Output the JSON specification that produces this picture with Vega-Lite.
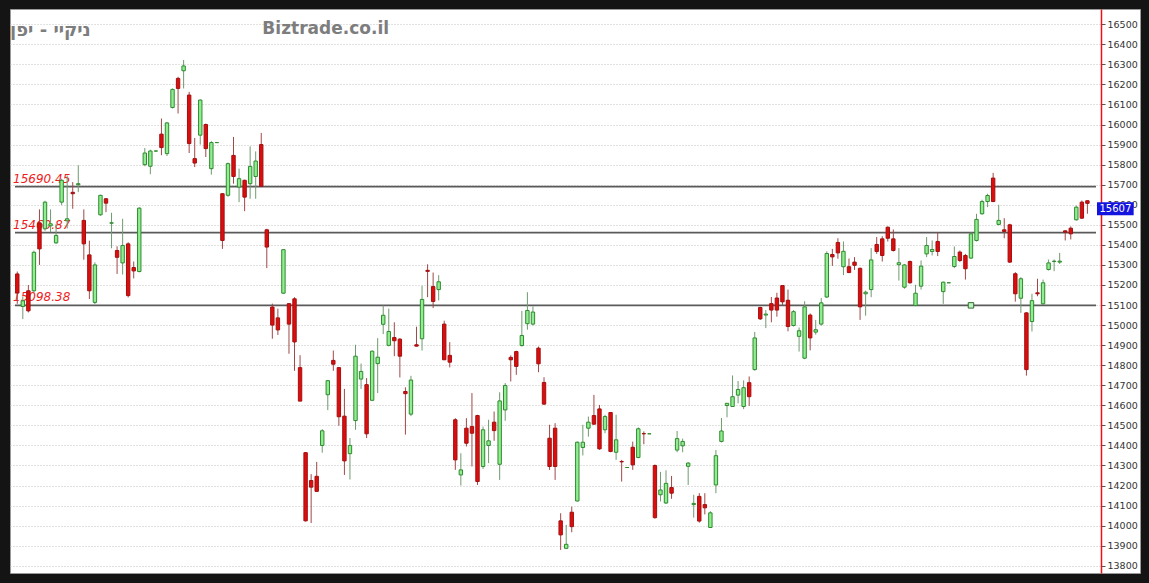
{
  "$schema": "https://vega.github.io/schema/vega-lite/v6.json",
  "width": 1130,
  "height": 564,
  "autosize": {"type": "none"},
  "padding": {"left": 10, "top": 9, "right": 9, "bottom": 10},
  "background": "#141414",
  "config": {"view": {"fill": "#ffffff", "stroke": "#9a9a9a", "strokeWidth": 1}},
  "datasets": {
    "candles": [
      {"i":0,"o":15255,"h":15267,"l":15106,"c":15160},{"i":1,"o":15093,"h":15140,"l":15030,"c":15121},{"i":2,"o":15171,"h":15200,"l":15063,"c":15071},{"i":3,"o":15171,"h":15371,"l":15163,"c":15363},{"i":4,"o":15510,"h":15577,"l":15300,"c":15380},{"i":5,"o":15480,"h":15620,"l":15470,"c":15613},{"i":6,"o":15495,"h":15577,"l":15463,"c":15505},{"i":7,"o":15410,"h":15505,"l":15405,"c":15447},{"i":8,"o":15613,"h":15730,"l":15598,"c":15722},{"i":9,"o":15520,"h":15746,"l":15482,"c":15530},
      {"i":10,"o":15662,"h":15713,"l":15580,"c":15655},{"i":11,"o":15700,"h":15797,"l":15663,"c":15705},{"i":12,"o":15522,"h":15577,"l":15326,"c":15405},{"i":13,"o":15350,"h":15421,"l":15130,"c":15171},{"i":14,"o":15113,"h":15313,"l":15105,"c":15300},{"i":15,"o":15550,"h":15650,"l":15545,"c":15647},{"i":16,"o":15630,"h":15633,"l":15563,"c":15608},{"i":17,"o":15508,"h":15560,"l":15383,"c":15510},{"i":18,"o":15372,"h":15393,"l":15255,"c":15338},{"i":19,"o":15310,"h":15530,"l":15252,"c":15397},
      {"i":20,"o":15405,"h":15413,"l":15138,"c":15147},{"i":21,"o":15287,"h":15317,"l":15233,"c":15270},{"i":22,"o":15267,"h":15588,"l":15263,"c":15583},{"i":23,"o":15800,"h":15883,"l":15792,"c":15858},{"i":24,"o":15792,"h":15875,"l":15752,"c":15868},{"i":25,"o":15868,"h":15870,"l":15864,"c":15868},{"i":26,"o":15952,"h":16030,"l":15847,"c":15885},{"i":27,"o":15855,"h":16013,"l":15843,"c":16008},{"i":28,"o":16085,"h":16180,"l":16080,"c":16175},{"i":29,"o":16230,"h":16238,"l":16055,"c":16180},
      {"i":30,"o":16268,"h":16322,"l":16180,"c":16292},{"i":31,"o":16147,"h":16163,"l":15858,"c":15905},{"i":32,"o":15830,"h":15933,"l":15788,"c":15808},{"i":33,"o":15947,"h":16125,"l":15900,"c":16122},{"i":34,"o":16000,"h":16005,"l":15838,"c":15880},{"i":35,"o":15780,"h":15917,"l":15750,"c":15910},{"i":36,"o":15910,"h":15910,"l":15910,"c":15910},{"i":37,"o":15655,"h":15658,"l":15380,"c":15422},{"i":38,"o":15647,"h":15810,"l":15640,"c":15805},{"i":39,"o":15846,"h":15938,"l":15705,"c":15741},
      {"i":40,"o":15688,"h":15780,"l":15613,"c":15730},{"i":41,"o":15722,"h":15725,"l":15568,"c":15638},{"i":42,"o":15705,"h":15891,"l":15630,"c":15791},{"i":43,"o":15741,"h":15866,"l":15630,"c":15818},{"i":44,"o":15900,"h":15958,"l":15688,"c":15692},{"i":45,"o":15475,"h":15480,"l":15284,"c":15389},{"i":46,"o":15090,"h":15107,"l":14932,"c":15000},{"i":47,"o":15036,"h":15082,"l":14951,"c":14976},{"i":48,"o":15159,"h":15379,"l":15156,"c":15376},{"i":49,"o":15107,"h":15107,"l":14857,"c":15005},
      {"i":50,"o":15131,"h":15139,"l":14772,"c":14916},{"i":51,"o":14788,"h":14850,"l":14621,"c":14621},{"i":52,"o":14364,"h":14367,"l":14021,"c":14024},{"i":53,"o":14225,"h":14257,"l":14013,"c":14192},{"i":54,"o":14246,"h":14318,"l":14168,"c":14171},{"i":55,"o":14400,"h":14481,"l":14364,"c":14473},{"i":56,"o":14653,"h":14726,"l":14576,"c":14723},{"i":57,"o":14824,"h":14873,"l":14772,"c":14805},{"i":58,"o":14788,"h":14791,"l":14498,"c":14543},{"i":59,"o":14546,"h":14682,"l":14253,"c":14323},
      {"i":60,"o":14359,"h":14437,"l":14230,"c":14400},{"i":61,"o":14524,"h":14902,"l":14478,"c":14845},{"i":62,"o":14731,"h":14808,"l":14682,"c":14769},{"i":63,"o":14703,"h":14736,"l":14437,"c":14458},{"i":64,"o":14625,"h":14873,"l":14622,"c":14870},{"i":65,"o":14808,"h":14935,"l":14661,"c":14840},{"i":66,"o":15004,"h":15098,"l":14955,"c":15049},{"i":67,"o":14899,"h":15082,"l":14894,"c":14968},{"i":68,"o":14938,"h":15014,"l":14845,"c":14922},{"i":69,"o":14930,"h":14935,"l":14739,"c":14845},
      {"i":70,"o":14669,"h":14690,"l":14454,"c":14658},{"i":71,"o":14556,"h":14747,"l":14546,"c":14726},{"i":72,"o":14902,"h":14992,"l":14894,"c":14895},{"i":73,"o":14932,"h":15196,"l":14873,"c":15128},{"i":74,"o":15273,"h":15303,"l":15139,"c":15268},{"i":75,"o":15192,"h":15262,"l":15085,"c":15118},{"i":76,"o":15177,"h":15249,"l":15123,"c":15216},{"i":77,"o":15005,"h":15022,"l":14827,"c":14827},{"i":78,"o":14849,"h":14915,"l":14789,"c":14815},{"i":79,"o":14528,"h":14536,"l":14278,"c":14328},
      {"i":80,"o":14253,"h":14361,"l":14200,"c":14278},{"i":81,"o":14486,"h":14536,"l":14395,"c":14411},{"i":82,"o":14494,"h":14661,"l":14295,"c":14461},{"i":83,"o":14549,"h":14553,"l":14203,"c":14220},{"i":84,"o":14295,"h":14494,"l":14283,"c":14478},{"i":85,"o":14400,"h":14528,"l":14312,"c":14423},{"i":86,"o":14516,"h":14569,"l":14423,"c":14474},{"i":87,"o":14306,"h":14665,"l":14228,"c":14622},{"i":88,"o":14577,"h":14711,"l":14523,"c":14699},{"i":89,"o":14839,"h":14849,"l":14719,"c":14827},
      {"i":90,"o":14868,"h":14872,"l":14752,"c":14794},{"i":91,"o":14898,"h":15071,"l":14893,"c":14948},{"i":92,"o":15007,"h":15164,"l":14977,"c":15073},{"i":93,"o":15005,"h":15093,"l":14998,"c":15065},{"i":94,"o":14885,"h":14893,"l":14765,"c":14807},{"i":95,"o":14714,"h":14740,"l":14603,"c":14606},{"i":96,"o":14436,"h":14503,"l":14278,"c":14295},{"i":97,"o":14486,"h":14511,"l":14228,"c":14295},{"i":98,"o":14024,"h":14062,"l":13879,"c":13954},{"i":99,"o":13887,"h":14004,"l":13884,"c":13907},
      {"i":100,"o":14067,"h":14095,"l":13967,"c":13995},{"i":101,"o":14123,"h":14420,"l":14120,"c":14416},{"i":102,"o":14390,"h":14503,"l":14350,"c":14416},{"i":103,"o":14486,"h":14544,"l":14444,"c":14516},{"i":104,"o":14549,"h":14652,"l":14503,"c":14506},{"i":105,"o":14582,"h":14602,"l":14378,"c":14383},{"i":106,"o":14478,"h":14553,"l":14461,"c":14544},{"i":107,"o":14564,"h":14564,"l":14366,"c":14370},{"i":108,"o":14366,"h":14553,"l":14328,"c":14428},{"i":109,"o":14320,"h":14328,"l":14220,"c":14318},
      {"i":110,"o":14290,"h":14290,"l":14290,"c":14290},{"i":111,"o":14391,"h":14419,"l":14278,"c":14303},{"i":112,"o":14340,"h":14490,"l":14336,"c":14483},{"i":113,"o":14459,"h":14470,"l":14406,"c":14458},{"i":114,"o":14458,"h":14458,"l":14458,"c":14458},{"i":115,"o":14300,"h":14305,"l":14035,"c":14040},{"i":116,"o":14154,"h":14268,"l":14121,"c":14178},{"i":117,"o":14113,"h":14276,"l":14108,"c":14211},{"i":118,"o":14190,"h":14248,"l":14134,"c":14162},{"i":119,"o":14377,"h":14472,"l":14366,"c":14434},
      {"i":120,"o":14398,"h":14434,"l":14366,"c":14420},{"i":121,"o":14296,"h":14317,"l":14203,"c":14312},{"i":122,"o":14105,"h":14154,"l":14040,"c":14111},{"i":123,"o":14146,"h":14162,"l":14015,"c":14023},{"i":124,"o":14105,"h":14162,"l":14056,"c":14089},{"i":125,"o":13991,"h":14072,"l":13988,"c":14064},{"i":126,"o":14203,"h":14377,"l":14162,"c":14349},{"i":127,"o":14420,"h":14537,"l":14415,"c":14472},{"i":128,"o":14599,"h":14610,"l":14540,"c":14610},{"i":129,"o":14594,"h":14749,"l":14594,"c":14643},
      {"i":130,"o":14651,"h":14721,"l":14610,"c":14679},{"i":131,"o":14594,"h":14724,"l":14581,"c":14688},{"i":132,"o":14713,"h":14744,"l":14597,"c":14643},{"i":133,"o":14778,"h":14966,"l":14773,"c":14936},{"i":134,"o":15088,"h":15091,"l":15026,"c":15031},{"i":135,"o":15050,"h":15075,"l":14985,"c":15055},{"i":136,"o":15107,"h":15140,"l":15014,"c":15075},{"i":137,"o":15135,"h":15161,"l":15042,"c":15075},{"i":138,"o":15197,"h":15200,"l":15099,"c":15116},{"i":139,"o":15124,"h":15177,"l":14969,"c":14993},
      {"i":140,"o":14998,"h":15075,"l":14993,"c":15067},{"i":141,"o":14944,"h":14988,"l":14868,"c":14972},{"i":142,"o":14835,"h":15119,"l":14830,"c":15091},{"i":143,"o":15050,"h":15058,"l":14874,"c":14936},{"i":144,"o":14965,"h":15026,"l":14952,"c":14977},{"i":145,"o":15005,"h":15135,"l":14998,"c":15111},{"i":146,"o":15140,"h":15368,"l":15135,"c":15357},{"i":147,"o":15352,"h":15380,"l":15295,"c":15340},{"i":148,"o":15412,"h":15433,"l":15331,"c":15360},{"i":149,"o":15291,"h":15417,"l":15249,"c":15368},
      {"i":150,"o":15291,"h":15332,"l":15259,"c":15262},{"i":151,"o":15314,"h":15339,"l":15275,"c":15298},{"i":152,"o":15283,"h":15287,"l":15026,"c":15091},{"i":153,"o":15156,"h":15172,"l":15047,"c":15164},{"i":154,"o":15177,"h":15384,"l":15139,"c":15325},{"i":155,"o":15402,"h":15439,"l":15355,"c":15367},{"i":156,"o":15430,"h":15443,"l":15317,"c":15347},{"i":157,"o":15488,"h":15492,"l":15417,"c":15433},{"i":158,"o":15430,"h":15477,"l":15367,"c":15372},{"i":159,"o":15301,"h":15384,"l":15222,"c":15311},
      {"i":160,"o":15189,"h":15305,"l":15181,"c":15300},{"i":161,"o":15317,"h":15322,"l":15206,"c":15211},{"i":162,"o":15098,"h":15201,"l":15094,"c":15159},{"i":163,"o":15194,"h":15322,"l":15177,"c":15294},{"i":164,"o":15355,"h":15439,"l":15339,"c":15397},{"i":165,"o":15367,"h":15422,"l":15347,"c":15377},{"i":166,"o":15417,"h":15463,"l":15344,"c":15367},{"i":167,"o":15167,"h":15217,"l":15106,"c":15214},{"i":168,"o":15211,"h":15211,"l":15211,"c":15211},{"i":169,"o":15292,"h":15392,"l":15284,"c":15342},
      {"i":170,"o":15364,"h":15372,"l":15314,"c":15322},{"i":171,"o":15347,"h":15355,"l":15227,"c":15281},{"i":172,"o":15334,"h":15463,"l":15330,"c":15455},{"i":173,"o":15422,"h":15555,"l":15417,"c":15527},{"i":174,"o":15555,"h":15625,"l":15550,"c":15616},{"i":175,"o":15616,"h":15655,"l":15588,"c":15646},{"i":176,"o":15733,"h":15759,"l":15613,"c":15616},{"i":177,"o":15502,"h":15600,"l":15497,"c":15522},{"i":178,"o":15475,"h":15533,"l":15433,"c":15467},{"i":179,"o":15500,"h":15505,"l":15310,"c":15314},
      {"i":180,"o":15256,"h":15264,"l":15117,"c":15156},{"i":181,"o":15134,"h":15239,"l":15061,"c":15231},{"i":182,"o":15061,"h":15064,"l":14748,"c":14778},{"i":183,"o":15018,"h":15156,"l":14968,"c":15122},{"i":184,"o":15161,"h":15231,"l":15144,"c":15156},{"i":185,"o":15106,"h":15227,"l":15101,"c":15211},{"i":186,"o":15277,"h":15327,"l":15272,"c":15310},{"i":187,"o":15317,"h":15327,"l":15269,"c":15319},{"i":188,"o":15314,"h":15360,"l":15305,"c":15319},{"i":189,"o":15470,"h":15472,"l":15422,"c":15463},
      {"i":190,"o":15483,"h":15492,"l":15427,"c":15455},{"i":191,"o":15525,"h":15596,"l":15521,"c":15588},{"i":192,"o":15613,"h":15621,"l":15530,"c":15533},{"i":193,"o":15620,"h":15621,"l":15555,"c":15607}
    ],
    "levels": [
      {"level": 15690.45, "label": "15690.45"},
      {"level": 15460.87, "label": "15460.87"},
      {"level": 15098.38, "label": "15098.38"}
    ],
    "handle": [{"i": 172, "level": 15098.38}],
    "last": [{"price": 15607}]
  },
  "resolve": {"axis": {"y": "independent"}},
  "layer": [
    {
      "data": {"name": "levels"},
      "mark": {"type": "rule", "color": "#5a5a5a", "strokeWidth": 1.6},
      "encoding": {
        "x": {"datum": -0.411, "type": "quantitative", "scale": {"domain": [-0.411, 194.55], "range": [0, 1091], "nice": false, "zero": false}, "axis": null},
        "x2": {"datum": 194.55},
        "y": {"field": "level", "type": "quantitative", "scale": {"domain": [13764, 16576], "nice": false, "zero": false},
          "axis": {"orient": "right", "offset": -39, "values": [13800,13900,14000,14100,14200,14300,14400,14500,14600,14700,14800,14900,15000,15100,15200,15300,15400,15500,15600,15700,15800,15900,16000,16100,16200,16300,16400,16500], "format": "d", "grid": false, "domainColor": "#ee1111", "domainWidth": 1.5, "tickColor": "#555555", "tickSize": 4, "labelPadding": 2, "labelFont": "DejaVu Sans", "labelFontSize": 9.5, "labelColor": "#333333", "title": null}}
      }
    },
    {
      "data": {"name": "levels"},
      "mark": {"type": "text", "align": "left", "baseline": "alphabetic", "dy": -4, "font": "DejaVu Sans", "fontSize": 12, "fontStyle": "italic", "color": "#ee1c1c"},
      "encoding": {
        "x": {"datum": -0.77, "type": "quantitative", "scale": {"domain": [-0.411, 194.55], "range": [0, 1091], "nice": false, "zero": false}, "axis": null},
        "y": {"field": "level", "type": "quantitative", "scale": {"domain": [13764, 16576], "nice": false, "zero": false}, "axis": null},
        "text": {"field": "label"}
      }
    },
    {
      "data": {"values": [{"t": "ניקיי - יפן"}]},
      "mark": {"type": "text", "align": "left", "baseline": "middle", "font": "DejaVu Sans", "fontSize": 18, "fontWeight": "bold", "color": "#7d7d7d"},
      "encoding": {
        "x": {"datum": -1.3, "type": "quantitative", "scale": {"domain": [-0.411, 194.55], "range": [0, 1091], "nice": false, "zero": false}, "axis": null},
        "y": {"datum": 16468, "type": "quantitative", "scale": {"domain": [13764, 16576], "nice": false, "zero": false}, "axis": null},
        "text": {"field": "t"}
      }
    },
    {
      "data": {"values": [{"t": "Biztrade.co.il"}]},
      "mark": {"type": "text", "align": "left", "baseline": "middle", "font": "DejaVu Sans", "fontSize": 17, "fontWeight": "bold", "color": "#7d7d7d"},
      "encoding": {
        "x": {"datum": 44.2, "type": "quantitative", "scale": {"domain": [-0.411, 194.55], "range": [0, 1091], "nice": false, "zero": false}, "axis": null},
        "y": {"datum": 16475, "type": "quantitative", "scale": {"domain": [13764, 16576], "nice": false, "zero": false}, "axis": null},
        "text": {"field": "t"}
      }
    },
    {
      "data": {"name": "candles"},
      "mark": {"type": "rule", "strokeWidth": 1},
      "encoding": {
        "x": {"field": "i", "type": "quantitative", "scale": {"domain": [-0.411, 194.55], "range": [0, 1091], "nice": false, "zero": false},
          "axis": {"values": [10, 31, 51, 70, 90, 112, 133, 154, 177], "grid": true, "gridColor": "#cccccc", "gridDash": [2, 1], "gridWidth": 1, "labels": false, "ticks": false, "domain": false, "title": null}},
        "y": {"field": "l", "type": "quantitative", "scale": {"domain": [13764, 16576], "nice": false, "zero": false},
          "axis": {"orient": "left", "values": [13800,13900,14000,14100,14200,14300,14400,14500,14600,14700,14800,14900,15000,15100,15200,15300,15400,15500,15600,15700,15800,15900,16000,16100,16200,16300,16400,16500], "grid": true, "gridColor": "#c4c4c4", "gridDash": [1, 2], "gridWidth": 1, "labels": false, "ticks": false, "domain": false, "title": null}},
        "y2": {"field": "h"},
        "color": {"condition": {"test": "datum.c < datum.o", "value": "#a04848"}, "value": "#6f9a6f"}
      }
    },
    {
      "data": {"name": "candles"},
      "mark": {"type": "bar", "width": 3.4, "strokeWidth": 1},
      "encoding": {
        "x": {"field": "i", "type": "quantitative", "scale": {"domain": [-0.411, 194.55], "range": [0, 1091], "nice": false, "zero": false}, "axis": null},
        "y": {"field": "o", "type": "quantitative", "scale": {"domain": [13764, 16576], "nice": false, "zero": false}, "axis": null},
        "y2": {"field": "c"},
        "fill": {"condition": {"test": "datum.c < datum.o", "value": "#dd0d0d"}, "value": "#90ee90"},
        "stroke": {"condition": {"test": "datum.c < datum.o", "value": "#a01010"}, "value": "#2f8a2f"}
      }
    },
    {
      "data": {"name": "handle"},
      "mark": {"type": "point", "shape": "square", "size": 30, "filled": true, "fill": "#bff0bf", "stroke": "#2f6f2f", "strokeWidth": 1, "opacity": 1},
      "encoding": {
        "x": {"field": "i", "type": "quantitative", "scale": {"domain": [-0.411, 194.55], "range": [0, 1091], "nice": false, "zero": false}, "axis": null},
        "y": {"field": "level", "type": "quantitative", "scale": {"domain": [13764, 16576], "nice": false, "zero": false}, "axis": null}
      }
    },
    {
      "data": {"name": "last"},
      "mark": {"type": "rect", "color": "#1414e0"},
      "encoding": {
        "x": {"datum": 194.73, "type": "quantitative", "scale": {"domain": [-0.411, 194.55], "range": [0, 1091], "nice": false, "zero": false}, "axis": null},
        "x2": {"datum": 201.34},
        "y": {"datum": 15612, "type": "quantitative", "scale": {"domain": [13764, 16576], "nice": false, "zero": false}, "axis": null},
        "y2": {"datum": 15548}
      }
    },
    {
      "data": {"name": "last"},
      "mark": {"type": "text", "align": "center", "baseline": "middle", "font": "DejaVu Sans", "fontSize": 10, "color": "#ffffff"},
      "encoding": {
        "x": {"datum": 198.04, "type": "quantitative", "scale": {"domain": [-0.411, 194.55], "range": [0, 1091], "nice": false, "zero": false}, "axis": null},
        "y": {"datum": 15580, "type": "quantitative", "scale": {"domain": [13764, 16576], "nice": false, "zero": false}, "axis": null},
        "text": {"field": "price"}
      }
    }
  ]
}
